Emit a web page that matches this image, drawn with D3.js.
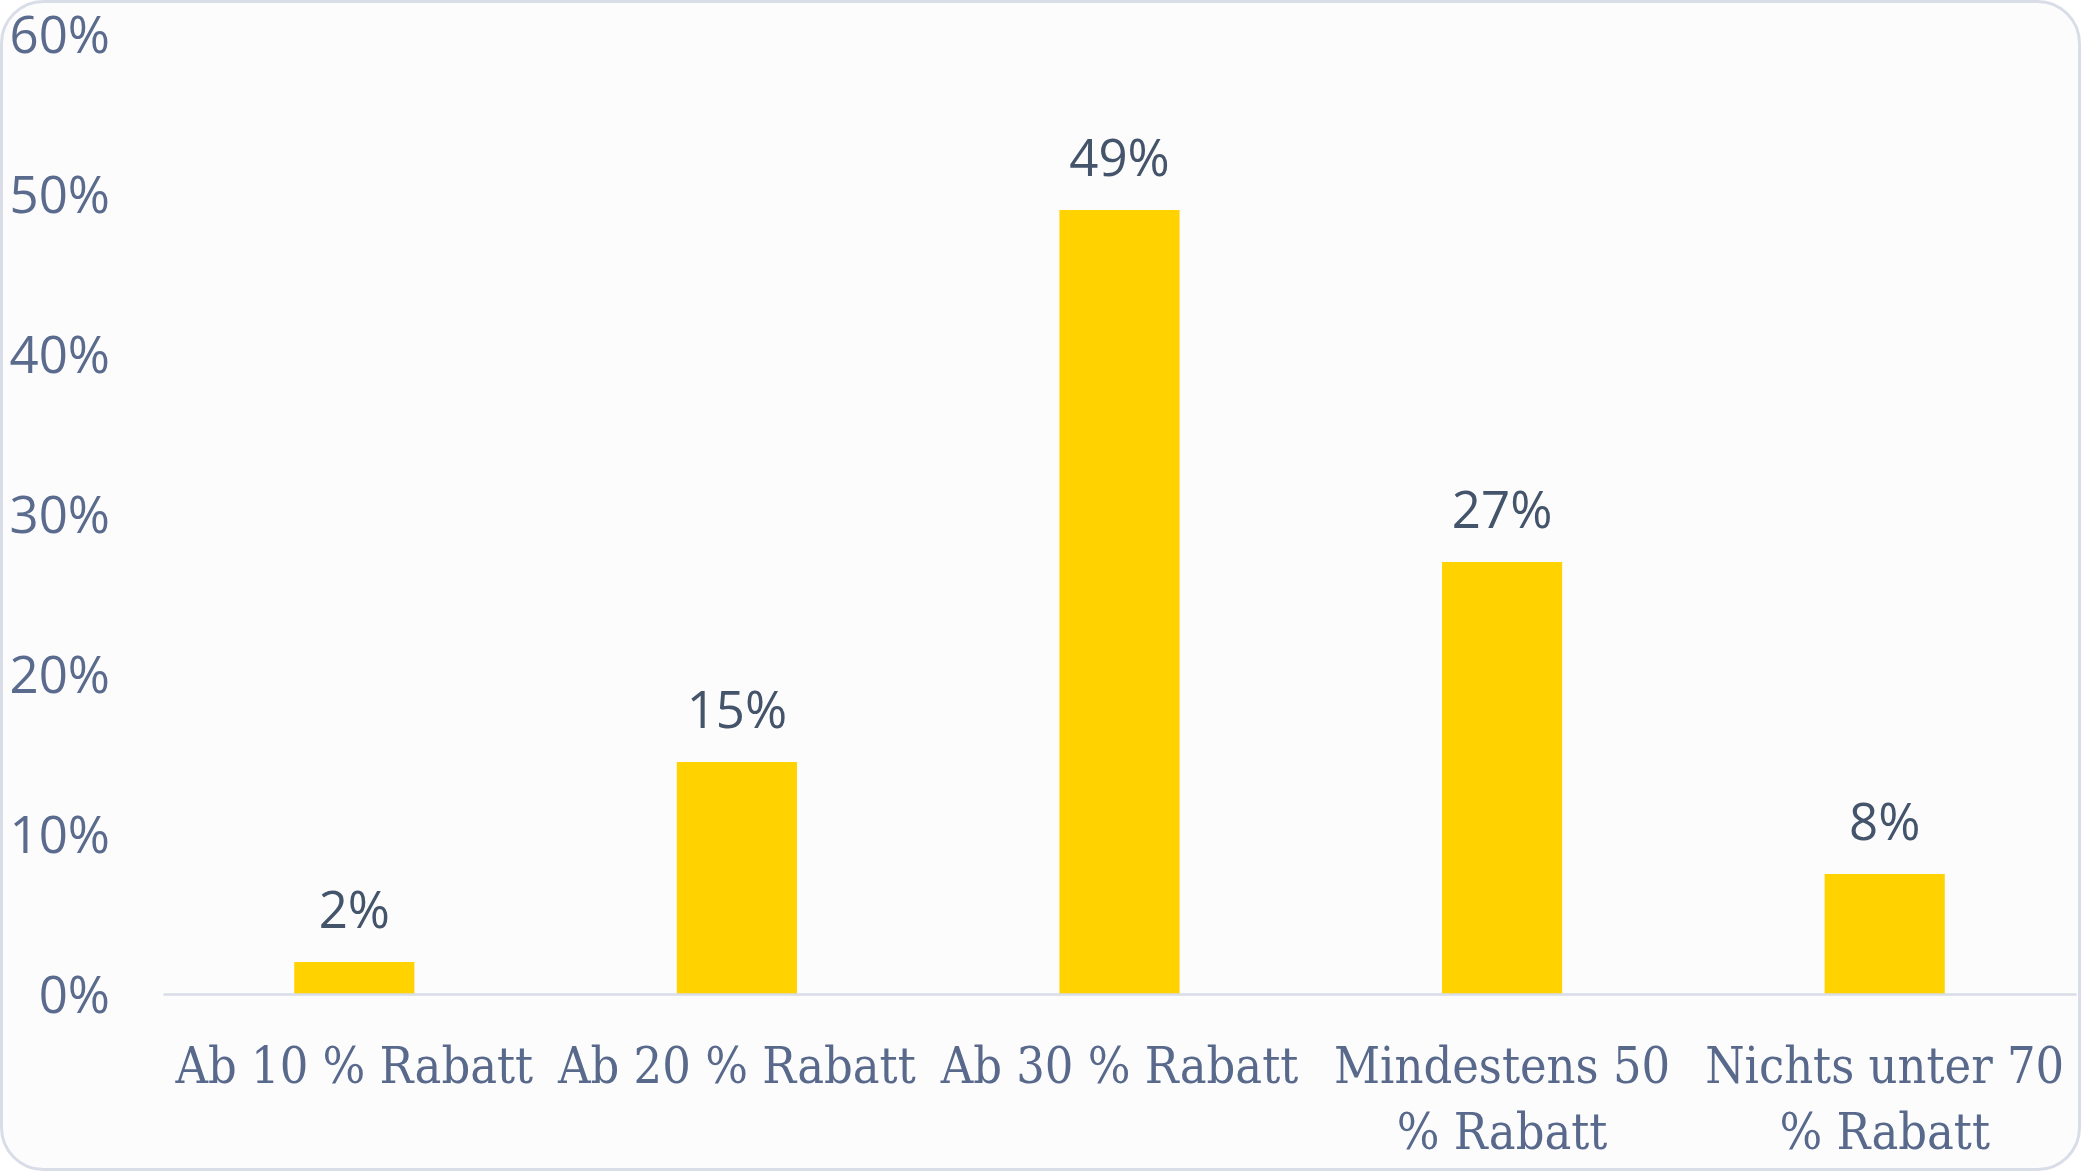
<!DOCTYPE html>
<html>
<head>
<meta charset="utf-8">
<script src="https://cdn.jsdelivr.net/npm/d3@7"></script>
<style>
  html, body { margin: 0; padding: 0; background: #ffffff; }
  svg { display: block; }
</style>
</head>
<body>
<script>
const categories = ["Ab 10 % Rabatt", "Ab 20 % Rabatt", "Ab 30 % Rabatt", "Mindestens 50 % Rabatt", "Nichts unter 70 % Rabatt"];
const values = [0.02, 0.145, 0.49, 0.27, 0.075];
const valueLabels = ["2%", "15%", "49%", "27%", "8%"];
const yTicks = [0, 0.1, 0.2, 0.3, 0.4, 0.5, 0.6];

const W = 2081, H = 1172;
const svg = d3.select("body").append("svg").attr("width", W).attr("height", H);

svg.append("rect")
  .attr("x", 1.5).attr("y", 1.5).attr("width", W - 3).attr("height", H - 4)
  .attr("rx", 42).attr("ry", 42)
  .attr("fill", "#fcfcfd").attr("stroke", "#d9dde8").attr("stroke-width", 3);

const x = d3.scaleBand().domain(categories).range([163, 2076])
  .paddingInner(0.686).paddingOuter(0.343);
const y = d3.scaleLinear().domain([0, 0.6]).range([994, 34]);

// y axis labels
const yAxis = d3.axisLeft(y).tickValues(yTicks).tickSize(0).tickPadding(0)
  .tickFormat(d => Math.round(d * 100) + "%");
const gy = svg.append("g").attr("transform", "translate(110,0)").call(yAxis);
gy.select(".domain").remove();
gy.selectAll("text")
  .attr("font-family", "'Open Sans', sans-serif").attr("font-size", 51)
  .attr("fill", "#5a6b8d").attr("dy", "0.357em");

// bars
svg.append("g").selectAll("rect").data(values).join("rect")
  .attr("x", (d, i) => x(categories[i]))
  .attr("width", x.bandwidth())
  .attr("y", d => y(d))
  .attr("height", d => y(0) - y(d))
  .attr("fill", "#FFD200");

// x axis line
const xAxis = d3.axisBottom(x).tickSize(0).tickSizeOuter(0).tickFormat("");
const gx = svg.append("g").attr("transform", `translate(0,${y(0)})`).call(xAxis);
gx.select(".domain").attr("stroke", "#d9dde6").attr("stroke-width", 2.5);
gx.selectAll(".tick").remove();

// value labels
svg.append("g").selectAll("text").data(values).join("text")
  .attr("x", (d, i) => x(categories[i]) + x.bandwidth() / 2)
  .attr("y", d => y(d) - 34)
  .attr("text-anchor", "middle")
  .attr("font-family", "'Open Sans', sans-serif").attr("font-size", 51)
  .attr("fill", "#44546a")
  .text((d, i) => valueLabels[i]);

// category labels with wrapping
const step = x.step();
const labelG = svg.append("g");
categories.forEach((c, i) => {
  const cx = x(c) + x.bandwidth() / 2;
  const t = labelG.append("text")
    .attr("x", cx).attr("y", 1082.7)
    .attr("text-anchor", "middle")
    .attr("font-family", "'DejaVu Serif Condensed', 'DejaVu Serif', serif")
    .style("font-stretch", "condensed")
    .attr("font-size", 50)
    .attr("fill", "#58698c");
  const words = c.split(" ");
  let lines = [];
  let cur = [];
  const probe = t.append("tspan");
  words.forEach(w => {
    const test = cur.concat([w]).join(" ");
    probe.text(test);
    if (probe.node().getComputedTextLength() > step - 4 && cur.length) {
      lines.push(cur.join(" "));
      cur = [w];
    } else {
      cur.push(w);
    }
  });
  lines.push(cur.join(" "));
  probe.remove();
  lines.forEach((l, k) => {
    t.append("tspan").attr("x", cx).attr("dy", k === 0 ? 0 : 66.5).text(l);
  });
});
</script>
</body>
</html>
